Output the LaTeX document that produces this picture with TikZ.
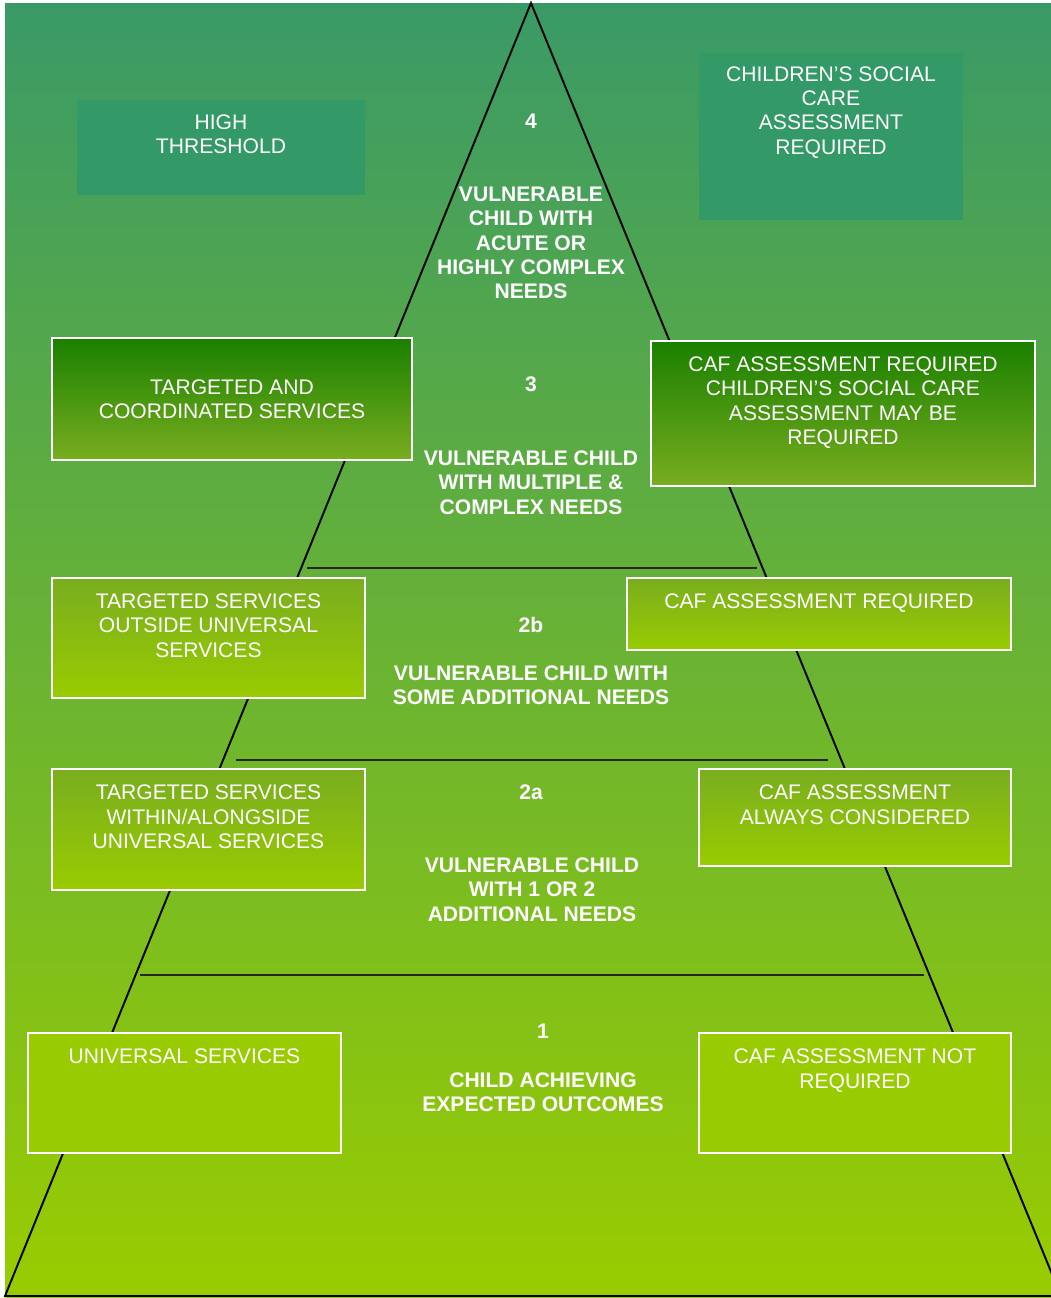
\documentclass[tikz,border=0pt]{standalone}
\usepackage{fontspec}
\setmainfont{Liberation Sans}
\usepackage{xcolor}
\usepackage{tikz}
\definecolor{pyrtop}{HTML}{3A9A67}
\definecolor{pyrlime}{HTML}{99CC00}
\definecolor{pyrteal}{HTML}{339966}
\definecolor{pyrdeep}{HTML}{1A8000}
\definecolor{pyrolive}{HTML}{79AD20}

\tikzset{
  boxtext/.style={white, font=\fontsize{12}{13.9}\selectfont, align=center, inner sep=0pt},
  leveltext/.style={white, font=\fontsize{12}{13.9}\selectfont\bfseries, align=center, inner sep=0pt},
  plainbox/.style={fill=pyrteal, inner sep=0pt, outer sep=0pt, anchor=north west},
  framebox/.style={draw=white, line width=1.1pt, inner sep=0pt, outer sep=0pt, anchor=north west},
  deepbox/.style={framebox, top color=pyrdeep, bottom color=pyrolive},
  midbox/.style={framebox, top color=pyrolive, bottom color=pyrlime},
  flatbox/.style={framebox, fill=pyrlime},
  toptext/.style={boxtext, anchor=north, yshift=-0.31cm}
}

\begin{document}
\begin{tikzpicture}[x=0.02cm, y=-0.02cm]
  \useasboundingbox (0,0) rectangle (1051,1298);
  % Background
  \fill[white] (0,0) rectangle (1051,1298);
  \shade[top color=pyrtop, bottom color=pyrlime] (5,3) rectangle (1051,1297);

  % Pyramid outline (right foot runs past the page edge)
  \coordinate (apex) at (531,3);
  \coordinate (baseL) at (5,1296);
  \coordinate (baseR) at (1061,1296);
  \begin{scope}
    \clip (0,0) rectangle (1051,1298);
    \draw[black, line width=1.1pt] (baseL) -- (apex) -- (baseR) -- cycle;
  \end{scope}

  % Level dividers
  \coordinate (d3L) at (307,568);
  \coordinate (d3R) at (757,568);
  \coordinate (d2L) at (236,760);
  \coordinate (d2R) at (828,760);
  \coordinate (d1L) at (140,975);
  \coordinate (d1R) at (924,975);
  \draw[black!85, line width=0.6pt] (d3L) -- (d3R);
  \draw[black!85, line width=0.6pt] (d2L) -- (d2R);
  \draw[black!85, line width=0.6pt] (d1L) -- (d1R);

  % Level 4 boxes
  \node[plainbox, minimum width=5.76cm, minimum height=1.9cm] (high) at (77,100) {};
  \node[toptext, yshift=0.03cm] (highT) at (high.north) {HIGH\\THRESHOLD};
  \node[plainbox, minimum width=5.28cm, minimum height=3.34cm] (csc) at (699,53) {};
  \node[toptext, yshift=0.05cm] (cscT) at (csc.north) {CHILDREN’S SOCIAL\\CARE\\ASSESSMENT\\REQUIRED};

  % Level 3 boxes
  \node[deepbox, minimum width=7.2cm, minimum height=2.44cm] (tcs) at (52,338) {};
  \node[boxtext] (tcsT) at (tcs.center) {TARGETED AND\\COORDINATED SERVICES};
  \node[deepbox, minimum width=7.68cm, minimum height=2.9cm] (caf3) at (651,341) {};
  \node[toptext] (caf3T) at (caf3.north) {CAF ASSESSMENT REQUIRED\\CHILDREN’S SOCIAL CARE\\ASSESSMENT MAY BE\\REQUIRED};

  % Level 2b boxes
  \node[midbox, minimum width=6.26cm, minimum height=2.4cm] (tos) at (52,578) {};
  \node[toptext] (tosT) at (tos.north) {TARGETED SERVICES\\OUTSIDE UNIVERSAL\\SERVICES};
  \node[midbox, minimum width=7.68cm, minimum height=1.44cm] (caf2b) at (627,578) {};
  \node[toptext] (caf2bT) at (caf2b.north) {CAF ASSESSMENT REQUIRED};

  % Level 2a boxes
  \node[midbox, minimum width=6.26cm, minimum height=2.42cm] (tws) at (52,769) {};
  \node[toptext] (twsT) at (tws.north) {TARGETED SERVICES\\WITHIN/ALONGSIDE\\UNIVERSAL SERVICES};
  \node[midbox, minimum width=6.24cm, minimum height=1.94cm] (caf2a) at (699,769) {};
  \node[toptext] (caf2aT) at (caf2a.north) {CAF ASSESSMENT\\ALWAYS CONSIDERED};

  % Level 1 boxes
  \node[flatbox, minimum width=6.26cm, minimum height=2.4cm] (uni) at (28,1033) {};
  \node[toptext] (uniT) at (uni.north) {UNIVERSAL SERVICES};
  \node[flatbox, minimum width=6.24cm, minimum height=2.4cm] (caf1) at (699,1033) {};
  \node[toptext] (caf1T) at (caf1.north) {CAF ASSESSMENT NOT\\REQUIRED};

  % Level labels inside the pyramid
  \node[leveltext] (lv4) at (531,121) {4};
  \node[leveltext] (lv4T) at (531,243) {VULNERABLE\\CHILD WITH\\ACUTE OR\\HIGHLY COMPLEX\\NEEDS};
  \node[leveltext] (lv3) at (531,384) {3};
  \node[leveltext] (lv3T) at (531,482.5) {VULNERABLE CHILD\\WITH MULTIPLE \&\\COMPLEX NEEDS};
  \node[leveltext] (lv2b) at (531,625) {2b};
  \node[leveltext] (lv2bT) at (531,685.5) {VULNERABLE CHILD WITH\\SOME ADDITIONAL NEEDS};
  \node[leveltext] (lv2a) at (531,792) {2a};
  \node[leveltext] (lv2aT) at (532,889.5) {VULNERABLE CHILD\\WITH 1 OR 2\\ADDITIONAL NEEDS};
  \node[leveltext] (lv1) at (543,1031) {1};
  \node[leveltext] (lv1T) at (543,1092.5) {CHILD ACHIEVING\\EXPECTED OUTCOMES};
\end{tikzpicture}
\end{document}
